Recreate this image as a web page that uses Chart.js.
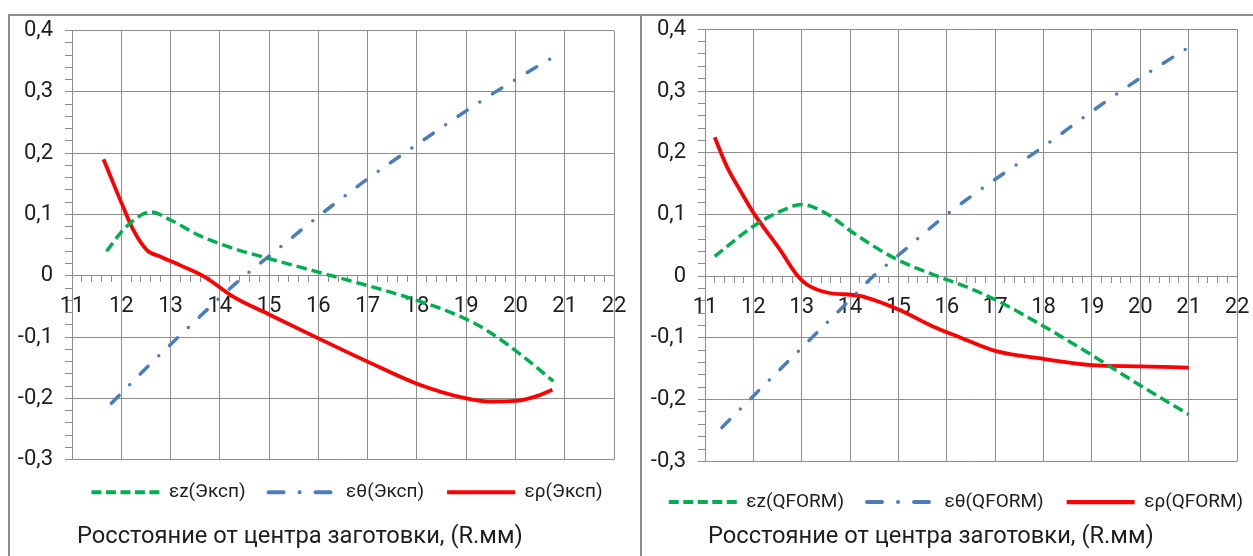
<!DOCTYPE html>
<html>
<head>
<meta charset="utf-8">
<script src="https://cdn.jsdelivr.net/npm/chart.js@4.4.1/dist/chart.umd.min.js"></script>
<style>
  html, body { margin: 0; padding: 0; background: #ffffff; width: 1253px; height: 556px; overflow: hidden; }
  .frame { position: absolute; top: 14px; border: 2px solid #8c8c8c; background: #fff; }
  #f1 { left: 8px; width: 630px; height: 560px; }
  #f2 { left: 640px; width: 640px; height: 560px; }
  canvas { display: block; position: absolute; left: 0; top: 0; }
</style>
</head>
<body>
<div class="frame" id="f1"><canvas id="c1" width="674" height="540"></canvas></div>
<div class="frame" id="f2"><canvas id="c2" width="628" height="540"></canvas></div>
<script>
// ---------- data ----------
const xMajorTicks = [11, 12, 13, 14, 15, 16, 17, 18, 19, 20, 21, 22];
const yMajorTicks = [-0.3, -0.2, -0.1, 0, 0.1, 0.2, 0.3, 0.4];
const axisTitle = 'Росстояние от центра заготовки, (R.мм)';

// Left chart: experiment
const ezExpX = [11.7, 12.1, 12.6, 13.0, 13.6, 14.3, 15.0, 16.0, 17.0, 18.0, 18.9, 19.4, 20.1, 20.77];
const ezExpY = [0.040, 0.080, 0.104, 0.091, 0.065, 0.044, 0.028, 0.006, -0.016, -0.040, -0.067, -0.088, -0.128, -0.172];
const etExpX = [11.8, 12.4, 13.0, 13.6, 14.3, 15.0, 16.0, 17.0, 18.0, 19.0, 20.0, 20.75];
const etExpY = [-0.208, -0.159, -0.112, -0.066, -0.014, 0.032, 0.097, 0.158, 0.214, 0.269, 0.320, 0.356];
const erExpX = [11.64, 12.04, 12.25, 12.52, 12.8, 13.2, 13.7, 14.27, 15.0, 16.0, 17.0, 18.0, 19.0, 19.45, 20.0, 20.4, 20.75];
const erExpY = [0.190, 0.112, 0.074, 0.042, 0.031, 0.017, -0.002, -0.034, -0.063, -0.102, -0.140, -0.176, -0.200, -0.205, -0.204, -0.197, -0.186];

// Right chart: QFORM
const ezQfX = [11.2, 12.0, 12.5, 13.0, 13.5, 14.07, 14.9, 15.8, 16.3, 17.0, 18.0, 19.0, 20.0, 21.0];
const ezQfY = [0.032, 0.081, 0.103, 0.116, 0.102, 0.070, 0.030, 0.000, -0.014, -0.038, -0.081, -0.128, -0.177, -0.224];
const etQfX = [11.35, 12.0, 13.0, 14.0, 14.48, 15.0, 16.0, 17.0, 18.0, 19.0, 20.0, 21.0];
const etQfY = [-0.245, -0.194, -0.116, -0.038, 0.0, 0.034, 0.100, 0.157, 0.210, 0.267, 0.321, 0.371];
const erQfX = [11.2, 11.45, 11.72, 12.0, 12.55, 12.9, 13.1, 13.5, 14.2, 15.0, 15.7, 16.3, 17.0, 18.0, 19.0, 20.0, 21.0];
const erQfY = [0.225, 0.178, 0.140, 0.103, 0.043, 0.002, -0.013, -0.026, -0.032, -0.054, -0.081, -0.100, -0.121, -0.134, -0.144, -0.146, -0.148];

const seriesNamesExp = ['εz(Эксп)', 'εθ(Эксп)', 'ερ(Эксп)'];
const seriesNamesQf = ['εz(QFORM)', 'εθ(QFORM)', 'ερ(QFORM)'];

// ---------- styles ----------
const FONT = 'Roboto, "Open Sans", "DejaVu Sans", sans-serif';
const TEXT = '#1e1e1e';
const GRID = '#8e8e8e';
const GREEN = '#00b050';
const BLUE = '#4a7ebb';
const RED = '#ff0000';

const pts = (xs, ys) => xs.map((x, i) => ({ x: x, y: ys[i] }));
const isMajor = (v, step) => Math.abs(v / step - Math.round(v / step)) < 1e-6;

function datasets(names, ez, et, er) {
  const base = { pointRadius: 0, pointHoverRadius: 0, fill: false, cubicInterpolationMode: 'monotone', borderWidth: 3.5 };
  return [
    Object.assign({}, base, { label: names[0], data: ez, borderColor: GREEN, backgroundColor: GREEN, borderDash: [10.5, 5], legendDash: [10, 4.5], legendWidth: 4 }),
    Object.assign({}, base, { label: names[1], data: et, borderColor: BLUE, backgroundColor: BLUE, borderDash: [11, 15, 0, 15], borderCapStyle: 'round', legendDash: [15, 16, 0, 16], legendWidth: 4 }),
    Object.assign({}, base, { label: names[2], data: er, borderColor: RED, backgroundColor: RED, borderWidth: 3.8, legendDash: [], legendWidth: 4.2 })
  ];
}

function legendLabels(chart) {
  const items = Chart.defaults.plugins.legend.labels.generateLabels(chart);
  items.forEach((it) => {
    const ds = chart.data.datasets[it.datasetIndex];
    it.lineDash = ds.legendDash || ds.borderDash || [];
    it.lineWidth = ds.legendWidth || ds.borderWidth;
    it.lineCap = ds.borderCapStyle || 'butt';
    it.strokeStyle = ds.borderColor;
    it.fillStyle = ds.borderColor;
    it.pointStyle = 'line';
  });
  return items;
}

const titleShift = {
  id: 'titleShift',
  afterLayout(chart, args, opts) {
    const t = chart.titleBlock;
    if (t && opts && opts.dx) { t.left += opts.dx; t.right += opts.dx; }
  }
};

function options(c) {
  return {
    responsive: false,
    animation: false,
    events: [],
    layout: { padding: { left: 0, right: 0, top: c.padT, bottom: c.padB } },
    scales: {
      x: {
        type: 'linear',
        min: xMajorTicks[0],
        max: xMajorTicks[xMajorTicks.length - 1],
        position: { y: 0 },
        afterFit: (s) => { s.height = 0; },
        border: { display: true, color: GRID, width: 1 },
        grid: {
          color: (ctx) => isMajor(ctx.tick.value, 1) ? GRID : 'rgba(0,0,0,0)',
          tickColor: GRID,
          tickLength: 6,
          lineWidth: 1
        },
        ticks: {
          stepSize: 0.2,
          autoSkip: false,
          maxRotation: 0,
          minRotation: 0,
          padding: 12,
          color: TEXT,
          font: { family: FONT, size: 22 },
          callback: (v) => isMajor(v, 1) && xMajorTicks.indexOf(Math.round(v)) >= 0 ? String(Math.round(v)) : ''
        }
      },
      y: {
        type: 'linear',
        min: yMajorTicks[0],
        max: yMajorTicks[yMajorTicks.length - 1],
        afterFit: (s) => { s.width = c.yWidth; s.paddingTop = 0; s.paddingBottom = 0; },
        border: { display: true, color: GRID, width: 1 },
        grid: {
          color: (ctx) => isMajor(ctx.tick.value, 0.1) ? GRID : 'rgba(0,0,0,0)',
          tickColor: GRID,
          tickLength: 7,
          lineWidth: 1
        },
        ticks: {
          stepSize: 0.02,
          autoSkip: false,
          padding: 12,
          color: TEXT,
          font: { family: FONT, size: 22 },
          callback: (v) => {
            if (!isMajor(v, 0.1)) return '';
            const r = Math.round(v * 10) / 10;
            return r === 0 ? '0' : r.toFixed(1).replace('.', ',');
          }
        }
      },
      spacer: {
        type: 'linear',
        position: 'right',
        display: true,
        afterFit: (s) => { s.width = c.rightSpace; s.paddingTop = 0; s.paddingBottom = 0; },
        grid: { display: false, drawTicks: false },
        border: { display: false },
        ticks: { display: false }
      }
    },
    plugins: {
      tooltip: { enabled: false },
      titleShift: { dx: c.titleDx },
      legend: {
        position: 'bottom',
        fullSize: true,
        title: { display: c.legTitle > 0, text: '', font: { size: 1 }, padding: { top: c.legTitle, bottom: 0 } },
        labels: {
          usePointStyle: true,
          pointStyle: 'line',
          pointStyleWidth: 68,
          padding: c.legPad,
          color: TEXT,
          font: { family: FONT, size: 19 },
          generateLabels: legendLabels
        }
      },
      title: {
        display: true,
        text: axisTitle,
        position: 'bottom',
        align: 'start',
        fullSize: false,
        color: TEXT,
        font: { family: FONT, size: 23.7, weight: 'normal' },
        padding: { top: c.titleTop, bottom: 0 }
      }
    }
  };
}

new Chart(document.getElementById('c1'), {
  type: 'line',
  data: { datasets: datasets(seriesNamesExp, pts(ezExpX, ezExpY), pts(etExpX, etExpY), pts(erExpX, erExpY)) },
  options: options({ padT: 14.5, padB: 4.8, yWidth: 62, rightSpace: 70, legTitle: 0, legPad: 23, titleTop: 11, titleDx: 5 }),
  plugins: [titleShift]
});

new Chart(document.getElementById('c2'), {
  type: 'line',
  data: { datasets: datasets(seriesNamesQf, pts(ezQfX, ezQfY), pts(etQfX, etQfY), pts(erQfX, erQfY)) },
  options: options({ padT: 13.3, padB: 4.8, yWidth: 63, rightSpace: 33, legTitle: 7, legPad: 23, titleTop: 1.2, titleDx: 3 }),
  plugins: [titleShift]
});
</script>
</body>
</html>
